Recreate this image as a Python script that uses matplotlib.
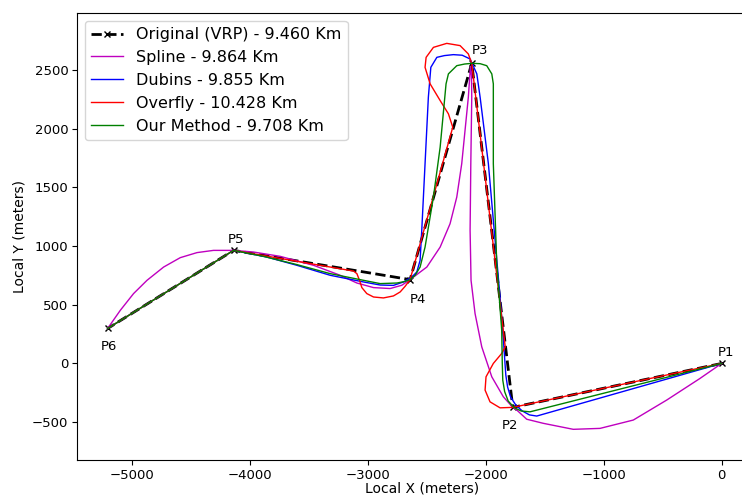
import matplotlib
matplotlib.use("Agg")
import matplotlib.pyplot as plt

plt.rcParams["savefig.bbox"] = "standard"

# waypoints (local metres), flown P1 -> P6
wp_names = ["P1", "P2", "P3", "P4", "P5", "P6"]
wp_x = [0, -1771, -2119, -2642, -4139, -5207]
wp_y = [0, -374, 2556, 714, 963, 298]
label_offsets = [(3, 8), (-2, -13), (6, 9), (6, -14), (2, 8), (1, -13)]

# paths, P1 -> P6
spline_x = [0, -184, -466, -749, -1031, -1258, -1512, -1653, -1737, -1771, -1851, -1949,
            -2034, -2091, -2125, -2133, -2127, -2119, -2121, -2130, -2148, -2176, -2204,
            -2246, -2303, -2387, -2500, -2642, -2712, -2811, -2952, -3093, -3235, -3461,
            -3743, -3970, -4139, -4309, -4449, -4591, -4732, -4873, -4987, -5099, -5207]
spline_y = [0, -128, -312, -482, -553, -561, -510, -475, -397, -374, -284, -114,
            141, 425, 708, 1133, 1701, 2267, 2450, 2530, 2267, 1984, 1701,
            1417, 1190, 991, 821, 714, 666, 638, 646, 685, 751, 836,
            912, 949, 963, 963, 944, 901, 821, 708, 595, 453, 298]

dubins_x = [0, -1568, -1630, -1690, -1745, -1790, -1815, -1830, -1837, -1856, -1879,
            -1978, -2048, -2076, -2133, -2200, -2275, -2350, -2415, -2466, -2487, -2515,
            -2543, -2557, -2585, -2627, -2698, -2783, -2896, -3037, -3320, -3602, -3856,
            -4139, -5207]
dubins_y = [0, -448, -438, -405, -355, -285, -200, -100, 0, 283, 566,
            1701, 2267, 2466, 2593, 2625, 2630, 2622, 2607, 2522, 2267, 1701,
            1133, 878, 779, 736, 694, 665, 668, 694, 751, 836, 906,
            963, 298]

overfly_x = [0, -1771, -1879, -1964, -2006, -1998, -1936, -1865, -1835, -2119, -2148,
             -2218, -2331, -2444, -2506, -2515, -2472, -2387, -2317, -2280,
             -2642, -2684, -2726, -2783, -2868, -2952, -3009, -3051, -3071, -3093, -3122,
             -4139, -5207]
overfly_y = [0, -374, -378, -327, -227, -114, 0, 85, 141, 2556, 2636,
             2707, 2726, 2692, 2607, 2522, 2381, 2239, 2126, 2012,
             714, 657, 609, 575, 558, 566, 595, 646, 708, 765, 787,
             963, 298]

ours_x = [0, -1625, -1700, -1760, -1810, -1840, -1856, -1860, -1865, -1907, -1936,
          -1936, -1949, -1992, -2048, -2119, -2180, -2246, -2317, -2337, -2387, -2444,
          -2515, -2557, -2599, -2642, -2690, -2754, -2896, -3037, -3320, -3602, -3885,
          -4139, -5207]
ours_y = [0, -412, -405, -375, -320, -240, -142, 0, 283, 850, 1701,
          2381, 2466, 2536, 2553, 2556, 2550, 2536, 2466, 2381, 1842, 1417,
          991, 821, 751, 714, 697, 685, 680, 708, 765, 842, 912,
          963, 298]

lengths_km = {"Original (VRP)": 9.460, "Spline": 9.864, "Dubins": 9.855,
              "Overfly": 10.428, "Our Method": 9.708}

fig = plt.figure(figsize=(7.42, 4.97), dpi=100)
ax = fig.add_axes([0.1034, 0.0738, 0.93, 0.9006])

ax.plot(wp_x, wp_y, "k--x", lw=2, ms=5, mew=1,
        label=f"Original (VRP) - {lengths_km['Original (VRP)']:.3f} Km")
ax.plot(spline_x, spline_y, color="m", lw=1,
        label=f"Spline - {lengths_km['Spline']:.3f} Km")
ax.plot(dubins_x, dubins_y, color="b", lw=1,
        label=f"Dubins - {lengths_km['Dubins']:.3f} Km")
ax.plot(overfly_x, overfly_y, color="r", lw=1,
        label=f"Overfly - {lengths_km['Overfly']:.3f} Km")
ax.plot(ours_x, ours_y, color="g", lw=1,
        label=f"Our Method - {lengths_km['Our Method']:.3f} Km")

for name, x, y, off in zip(wp_names, wp_x, wp_y, label_offsets):
    ax.annotate(name, (x, y), xytext=off, textcoords="offset points",
                ha="center", va="center", fontsize=9.5)

# equal metres per pixel on both axes; right edge runs off the canvas
ax.set_xlim(-5469, 383)
ax.set_ylim(-825, 2987)
ax.spines["right"].set_visible(False)
ax.set_xticks([-5000, -4000, -3000, -2000, -1000, 0])
ax.set_yticks([-500, 0, 500, 1000, 1500, 2000, 2500])
ax.tick_params(labelsize=9.5, pad=2.5)
ax.set_xlabel("Local X (meters)", fontsize=10, labelpad=0)
ax.set_ylabel("Local Y (meters)", fontsize=10)
ax.legend(loc="upper left", fontsize=11.5, handlelength=2.0)

fig.savefig("out.png", dpi=100)
